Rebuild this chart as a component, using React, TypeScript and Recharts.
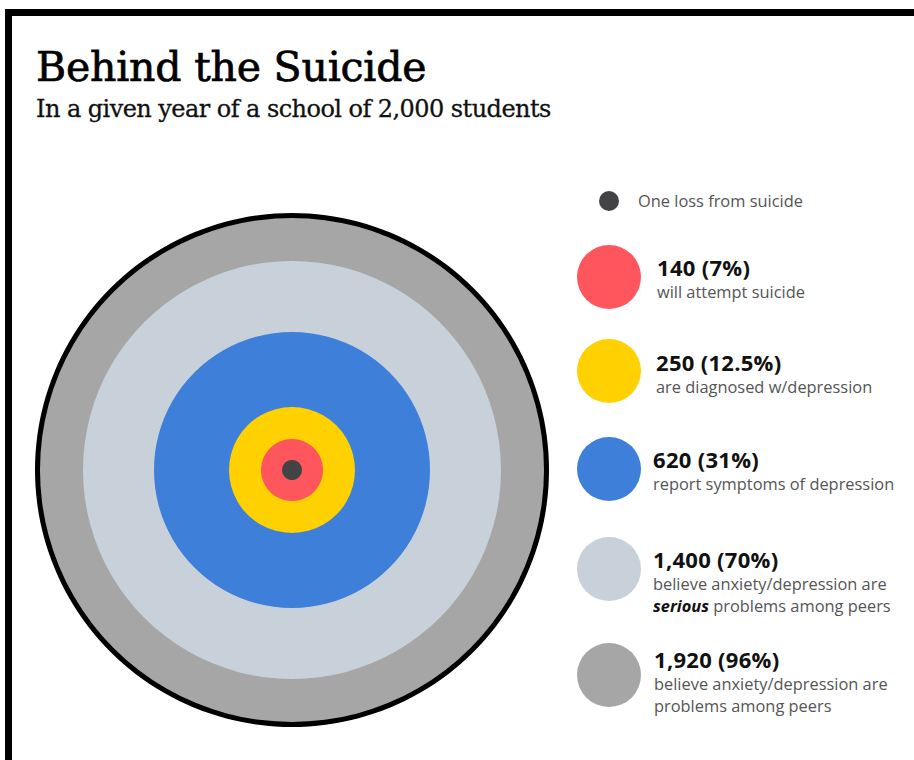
import React from "react";
import { PieChart, Pie, Cell } from "recharts";

// Rings from the inside out
const RING_COUNTS = [1, 140, 250, 620, 1400, 1920];
const RING_PCTS = ["", "7%", "12.5%", "31%", "70%", "96%"];
const RING_COLORS = ["#434345", "#ff565e", "#ffd100", "#3d7fd9", "#c8d0d9", "#a6a6a6"];
const RING_RADII = [10, 31, 63, 138, 209, 253];

const LEGEND_LINES = [
  ["One loss from suicide"],
  ["will attempt suicide"],
  ["are diagnosed w/depression"],
  ["report symptoms of depression"],
  ["believe anxiety/depression are", "*serious* problems among peers"],
  ["believe anxiety/depression are", "problems among peers"],
];

// vertical layout of the legend blocks (page px)
const LEGEND_TOP = [0, 253, 348, 445, 545, 645];
const LEGEND_DOT_Y = [201, 277, 371, 469, 569, 675];
const LEGEND_TEXT_X = [638, 657, 656, 653, 653, 654];

const SANS = "'Open Sans', 'Noto Sans', sans-serif";
const SERIF = "'DejaVu Serif', serif";

const fmt = (n: number) => n.toLocaleString("en-US");

const renderLine = (line: string, key: number) => {
  const parts = line.split("*");
  return (
    <div key={key}>
      {parts.map((p, i) =>
        i % 2 === 1 ? (
          <b key={i} style={{ fontStyle: "italic", color: "#111" }}>
            {p}
          </b>
        ) : (
          <span key={i}>{p}</span>
        )
      )}
    </div>
  );
};

const App: React.FC = () => {
  // draw largest disc first so smaller ones sit on top
  const order = RING_COUNTS.map((_, i) => i).reverse();
  const outer = RING_RADII[RING_RADII.length - 1];

  return (
    <div
      style={{
        position: "fixed",
        left: 0,
        top: 0,
        width: 914,
        height: 760,
        overflow: "hidden",
        background: "#fff",
      }}
    >
      {/* frame */}
      <div
        style={{
          position: "absolute",
          left: 5,
          top: 9,
          width: 2000,
          height: 2000,
          border: "7px solid #000",
        }}
      />

      <div
        style={{
          position: "absolute",
          left: 36,
          top: 47,
          fontFamily: SERIF,
          fontSize: 41,
          lineHeight: "41px",
          color: "#000",
          whiteSpace: "nowrap",
          letterSpacing: -0.2,
          WebkitTextStroke: "0.7px #000",
        }}
      >
        Behind the Suicide
      </div>
      <div
        style={{
          position: "absolute",
          left: 36,
          top: 97,
          fontFamily: SERIF,
          fontSize: 24,
          lineHeight: "24px",
          color: "#111",
          whiteSpace: "nowrap",
          letterSpacing: -0.55,
          WebkitTextStroke: "0.3px #111",
        }}
      >
        In a given year of a school of 2,000 students
      </div>

      <div style={{ position: "absolute", left: 12, top: 190 }}>
        <PieChart width={560} height={560} margin={{ top: 0, right: 0, bottom: 0, left: 0 }}>
          {order.map((i) => (
            <Pie
              key={`ring-${i}`}
              data={[{ name: LEGEND_LINES[i][0], value: RING_COUNTS[i] }]}
              dataKey="value"
              cx="50%"
              cy="50%"
              innerRadius={0}
              outerRadius={RING_RADII[i]}
              startAngle={90}
              endAngle={-270}
              stroke="none"
              isAnimationActive={false}
            >
              <Cell fill={RING_COLORS[i]} />
            </Pie>
          ))}
          {/* black rim round the outer ring */}
          <Pie
            data={[{ name: "rim", value: RING_COUNTS[RING_COUNTS.length - 1] }]}
            dataKey="value"
            cx="50%"
            cy="50%"
            innerRadius={outer - 1}
            outerRadius={outer + 4}
            startAngle={90}
            endAngle={-270}
            stroke="none"
            fill="#000"
            isAnimationActive={false}
          />
        </PieChart>
      </div>

      {/* legend */}
      {RING_COUNTS.map((count, i) => {
        const r = i === 0 ? 10 : 32;
        return (
          <React.Fragment key={`leg-${i}`}>
            <div
              style={{
                position: "absolute",
                left: 609 - r,
                top: LEGEND_DOT_Y[i] - r,
                width: r * 2,
                height: r * 2,
                borderRadius: "50%",
                background: RING_COLORS[i],
              }}
            />
            {i === 0 ? (
              <div
                style={{
                  position: "absolute",
                  left: LEGEND_TEXT_X[i],
                  top: LEGEND_DOT_Y[i] - 12,
                  fontFamily: SANS,
                  fontSize: 16.4,
                  lineHeight: "23px",
                  color: "#555",
                  whiteSpace: "nowrap",
                }}
              >
                {LEGEND_LINES[i][0]}
              </div>
            ) : (
              <div
                style={{
                  position: "absolute",
                  left: LEGEND_TEXT_X[i],
                  top: LEGEND_TOP[i],
                  fontFamily: SANS,
                  whiteSpace: "nowrap",
                }}
              >
                <div
                  style={{
                    fontSize: 22,
                    lineHeight: "28px",
                    fontWeight: 700,
                    color: "#111",
                    letterSpacing: 0.3,
                  }}
                >
                  {`${fmt(count)} (${RING_PCTS[i]})`}
                </div>
                <div style={{ fontSize: 16.4, lineHeight: "22px", color: "#555" }}>
                  {LEGEND_LINES[i].map((l, k) => renderLine(l, k))}
                </div>
              </div>
            )}
          </React.Fragment>
        );
      })}
    </div>
  );
};

export default App;
